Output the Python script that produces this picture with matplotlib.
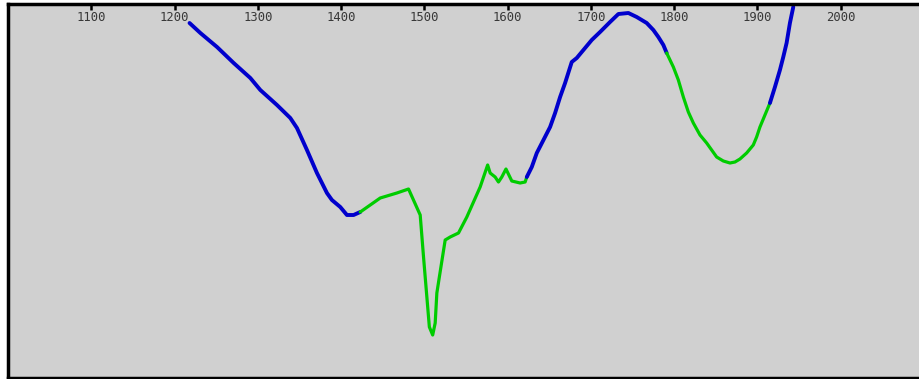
import numpy as np
import matplotlib.pyplot as plt

# spectrum trace, wavenumber vs. signal (arbitrary units)
wavenumber = np.array([1218, 1231, 1251, 1271, 1291, 1303, 1323, 1339, 1347, 1359,
                       1371, 1383, 1389, 1399, 1407, 1415, 1423, 1447, 1467, 1481,
                       1495, 1499, 1506, 1510, 1513, 1515, 1518, 1525, 1531, 1541,
                       1551, 1567, 1576, 1579, 1585, 1589, 1593, 1598, 1605, 1615,
                       1621, 1623, 1629, 1635, 1643, 1651, 1657, 1663, 1669, 1677,
                       1683, 1691, 1701, 1711, 1723, 1733, 1745, 1755, 1767, 1775,
                       1781, 1787, 1791, 1799, 1805, 1811, 1817, 1823, 1831, 1839,
                       1845, 1851, 1859, 1867, 1873, 1879, 1887, 1895, 1899, 1903,
                       1909, 1915, 1921, 1927, 1931, 1935, 1939, 1943])
signal = np.array([355, 345, 331, 315, 300, 288, 273, 260, 250, 228,
                   205, 185, 178, 171, 163, 163, 166, 180, 185, 189,
                   163, 121, 51, 43, 55, 85, 101, 138, 141, 145,
                   161, 191, 213, 205, 201, 196, 201, 209, 197, 195,
                   196, 201, 211, 225, 238, 251, 265, 281, 295, 316,
                   320, 328, 338, 346, 356, 364, 365, 361, 355, 348,
                   341, 333, 325, 311, 298, 281, 266, 255, 243, 235,
                   228, 221, 217, 215, 216, 219, 225, 233, 241, 251,
                   263, 275, 291, 308, 321, 335, 355, 371])

# ranges drawn in green, the rest in blue
green_ranges = [(1423, 1623), (1791, 1915)]
tick_values = [1100, 1200, 1300, 1400, 1500, 1600, 1700, 1800, 1900, 2000]

fig = plt.figure(figsize=(9.19, 3.79), dpi=100)
ax = fig.add_axes([8 / 919, 1 / 379, 1 - 8 / 919, 374 / 379])
ax.set_facecolor('#d0d0d0')

in_green = np.zeros(len(wavenumber), dtype=bool)
for lo, hi in green_ranges:
    in_green |= (wavenumber >= lo) & (wavenumber <= hi)

# split into runs of one colour; neighbouring runs share their end point
runs = []
cur = [0]
flag = None
for i in range(1, len(wavenumber)):
    seg_green = bool(in_green[i] and in_green[i - 1])
    if flag is not None and seg_green != flag:
        runs.append((cur, flag))
        cur = [i - 1]
    flag = seg_green
    cur.append(i)
runs.append((cur, flag))

for idx, g in runs:
    ax.plot(wavenumber[idx], signal[idx], color='#00cc00' if g else '#0000cc',
            lw=2.3 if g else 2.8, solid_capstyle='round', solid_joinstyle='round')

ax.set_xlim(1000, 2094)
ax.set_ylim(0, 374)
ax.set_yticks([])
ax.set_xticks(tick_values)
ax.xaxis.tick_top()
ax.tick_params(axis='x', direction='in', length=4, width=1.8, pad=-14.5,
               labelsize=8.8, labelcolor='#383838')
for lab in ax.get_xticklabels():
    lab.set_fontfamily('DejaVu Sans Mono')

for side in ['left', 'top', 'bottom']:
    ax.spines[side].set_linewidth(2.5)
ax.spines['right'].set_visible(False)

fig.savefig('out.png', dpi=100)
